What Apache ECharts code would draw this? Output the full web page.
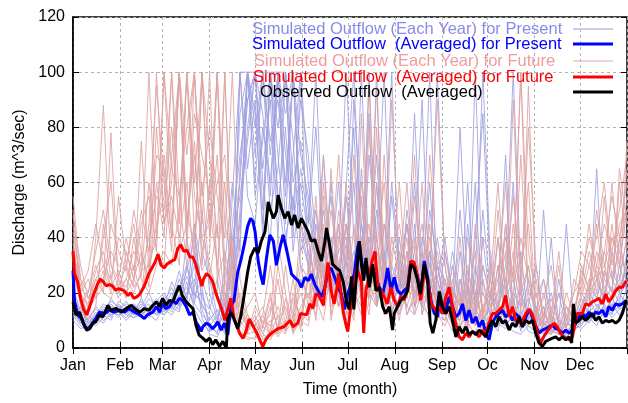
<!DOCTYPE html>
<html><head><meta charset="utf-8">
<script src="https://cdn.jsdelivr.net/npm/echarts@6/dist/echarts.min.js"></script>
<style>html,body{margin:0;padding:0;background:#fff}#c{width:628px;height:403px}</style>
</head><body><div id="c"></div>
<script>
// ---------- tick labels ----------
const monthLabels = ['Jan','Feb','Mar','Apr','May','Jun','Jul','Aug','Sep','Oc','Nov','Dec'];
const yTicks = [0, 20, 40, 60, 80, 100, 120];

// ---------- each-year series, one value every 5 days (Jan 1 .. Dec 31) ----------
const presentYear1 = [14,10,8,12,13,15,14, 13,16,12,14,18, 15,20,16,24,14,9, 6,8,12,35,60,100, 85,45,100,70,40,55,30, 25,45,28,20,22, 60,100,35,25,40,20,18, 30,45,25,15,12,30, 14,10,8,12,9,7, 18,12,9,6,5,8, 6,7,5,9,4,6, 10,12,14,11,13,15,18];
const presentYear2 = [20,12,9,11,15,13,12, 14,12,15,13,16, 18,14,22,30,16,12, 9,5,18,25,45,80, 100,60,38,100,55,100,45, 30,22,35,55,18, 25,15,45,30,70,22,14, 18,25,60,22,35,12, 10,22,15,9,30,12, 8,14,25,10,7,9, 12,6,5,8,10,7, 8,14,10,16,12,20,15];
const presentYear3 = [16,9,7,10,14,12,15, 12,11,14,16,12, 14,17,25,18,45,15, 12,8,30,60,35,100, 70,100,100,50,80,35,60, 40,20,70,30,15, 35,80,20,100,28,15,25, 12,20,35,90,18,25, 15,8,35,12,100,20, 12,30,10,15,8,12, 7,5,9,6,4,8, 12,9,15,13,18,14,22];
const presentYear4 = [12,8,6,9,12,14,11, 15,13,11,12,14, 12,16,14,20,30,11, 5,4,10,20,100,55, 45,80,60,100,100,40,100, 60,35,25,20,45, 15,30,55,20,15,35,12, 25,15,12,40,30,15, 25,12,10,45,15,8, 10,6,20,60,12,6, 5,8,12,7,5,10, 9,11,8,14,16,12,17];
const presentYear5 = [18,14,10,8,11,16,13, 11,14,17,12,10, 16,13,18,15,22,50, 20,10,6,45,70,90, 100,85,50,65,100,75,35, 45,80,30,25,35, 100,40,25,18,60,30,20, 15,28,20,25,60,20, 12,30,18,10,9,15, 20,9,7,14,35,10, 8,50,10,6,9,7, 14,10,12,20,15,18,25];
const presentYear6 = [15,11,9,13,10,12,14, 16,14,12,15,13, 12,15,19,26,18,20, 8,12,15,20,40,100, 60,100,70,100,45,100,50, 35,25,40,20,30, 20,25,30,85,15,45,25, 35,12,18,30,22,100, 30,15,12,20,60,10, 15,10,8,12,9,25, 10,7,6,5,12,8, 11,13,16,12,14,30,20];
const presentYear7 = [10,7,8,11,9,13,12, 13,11,12,14,15, 14,12,16,20,25,14, 7,6,9,15,100,65, 90,40,100,55,35,70,100, 28,18,22,60,25, 45,20,15,25,100,18,30, 20,35,15,20,15,30, 18,10,25,8,40,85, 25,8,12,18,6,15, 30,9,7,5,6,9, 7,10,12,15,11,14,16];
const presentYear8 = [13,9,11,14,12,10,16, 12,15,13,11,17, 20,15,13,30,19,25, 15,9,25,40,55,75, 100,65,90,40,100,60,75, 50,30,18,35,28, 30,60,20,40,25,20,55, 25,18,45,12,25,18, 20,15,12,28,18,25, 10,15,45,8,20,12, 6,10,8,20,7,6, 10,15,65,12,18,22,28];
const presentYear9 = [11,15,9,12,16,14,13, 10,13,16,14,12, 17,22,15,40,20,16, 10,14,8,30,85,100, 100,100,75,90,60,100,40, 30,50,25,40,20, 55,25,100,30,20,25,15, 40,20,25,15,50,30, 15,35,20,12,25,100, 30,12,18,25,10,8, 15,8,40,6,8,12, 14,18,12,25,20,40,22];
const presentYear10 = [17,12,8,10,13,17,15, 14,16,13,18,15, 13,18,28,17,35,22, 6,10,20,15,65,100, 55,75,100,100,70,50,90, 70,40,20,30,60, 18,90,45,20,35,25,60, 30,25,85,25,18,40, 22,12,50,15,10,30, 18,40,12,20,15,30, 12,25,9,7,15,10, 18,12,25,16,35,20,30];
const presentYear11 = [12,10,12,9,14,11,17, 15,12,18,13,14, 15,24,18,22,16,35, 25,12,5,12,50,90, 100,50,100,80,100,45,65, 45,100,35,22,28, 25,35,18,70,40,100,20, 22,45,18,30,100,15, 35,20,15,60,12,40, 15,20,70,10,12,18, 9,15,6,25,10,7, 12,20,15,18,22,16,35];
const presentYear12 = [22,13,10,15,12,18,14, 17,13,15,20,14, 19,16,21,28,40,18, 14,25,12,55,100,100, 80,100,55,100,85,100,70, 55,30,50,28,35, 40,20,65,25,50,30,100, 18,50,30,20,35,25, 40,18,80,20,15,50, 20,15,30,100,25,10, 7,12,20,9,45,8, 16,22,18,28,20,25,40];

const futureYear1 = [45,20,15,25,30,22,28, 20,25,35,22,60, 40,100,55,30,45,28, 35,100,20,10,6,4, 3,8,5,12,6,10,8, 15,20,45,12,30, 20,10,85,25,15,30,12, 25,40,15,30,20,12, 8,15,6,10,25,7, 12,30,15,90,20,10, 8,6,15,5,4,7, 15,20,25,18,40,30,50];
const futureYear2 = [30,18,12,40,88,30,25, 22,30,18,45,95, 60,35,100,45,70,35, 50,30,60,15,8,5, 6,4,15,8,5,20,10, 8,25,15,65,20, 12,45,15,20,60,18,10, 15,20,70,18,10,25, 12,6,20,9,5,15, 20,10,45,25,100,15, 12,9,6,8,5,10, 20,15,30,22,18,60,35];
const futureYear3 = [55,25,14,18,22,78,20, 25,20,28,30,40, 100,45,30,100,40,60, 25,45,15,30,10,6, 10,3,6,30,12,8,15, 20,12,30,18,40, 30,15,20,95,25,15,20, 10,30,20,15,45,10, 18,8,12,30,10,6, 8,15,10,20,40,25, 15,7,10,30,6,8, 12,25,18,35,25,20,75];
const futureYear4 = [35,22,18,20,25,35,30, 28,22,26,60,35, 30,70,100,35,100,45, 100,25,35,20,12,8, 5,12,4,6,18,5,12, 10,35,20,25,15, 45,20,12,30,18,70,25, 20,15,25,60,15,30, 25,10,7,18,12,20, 15,25,60,12,18,8, 6,12,9,7,20,12, 25,18,45,20,28,22,30];
const futureYear5 = [40,15,10,15,45,25,18, 35,25,20,32,100, 45,55,40,60,30,100, 40,70,25,12,20,10, 8,6,10,4,9,25,6, 30,15,55,10,25, 15,30,25,12,40,20,90, 30,12,20,35,25,15, 10,20,15,6,45,12, 30,12,18,10,25,60, 10,20,8,6,10,15, 18,30,20,55,25,35,28];
const futureYear6 = [28,16,20,30,20,18,25, 18,40,25,20,30, 35,30,50,100,55,40, 30,20,100,25,6,3, 4,10,8,15,7,12,20, 12,18,10,30,70, 25,18,55,15,25,12,35, 45,25,12,20,30,90, 30,12,10,25,8,15, 10,20,35,15,12,95, 20,8,12,6,8,9, 15,22,28,16,45,25,40];
const futureYear7 = [50,20,12,22,28,20,55, 30,22,75,28,45, 55,100,35,45,75,30, 60,30,15,40,15,7, 12,5,3,8,15,6,9, 25,10,40,15,20, 10,25,35,20,80,20,15, 12,35,15,25,12,20, 15,25,8,12,20,10, 25,8,15,45,20,30, 8,15,5,10,7,25, 20,35,25,30,20,65,45];
const futureYear8 = [38,18,16,28,35,22,20, 25,35,30,100,40, 70,40,100,50,35,100, 45,100,30,18,8,12, 6,8,20,5,10,8,30, 15,40,25,20,50, 35,12,30,45,15,25,20, 20,28,40,12,25,15, 20,10,18,6,15,25, 12,40,20,30,15,20, 15,5,8,12,15,10, 30,20,35,25,60,30,55];
const futureYear9 = [42,25,20,35,50,30,22, 30,45,28,40,55, 50,80,45,100,60,100, 70,40,100,20,15,9, 10,15,5,25,8,14,35, 40,20,60,25,15, 20,70,25,18,35,60,20, 35,18,55,25,30,20, 25,15,40,10,20,30, 18,50,20,15,70,20, 25,10,18,8,12,20, 25,40,30,45,35,50,70];
const futureYear10 = [32,20,25,18,40,60,25, 40,28,50,35,70, 65,40,100,70,100,55, 80,55,40,100,25,12, 8,12,30,10,6,18,12, 25,55,15,35,25, 60,15,40,25,95,30,18, 28,60,20,18,40,25, 12,30,15,20,8,40, 35,15,25,55,30,45, 12,18,30,10,8,15, 22,45,25,35,55,40,60];
const futureYear11 = [48,30,18,25,20,45,35, 28,50,35,25,80, 45,60,100,40,85,70, 55,100,45,30,18,5, 15,9,12,40,20,6,25, 18,30,70,20,45, 30,25,60,35,20,45,30, 60,20,30,45,20,35, 20,8,25,15,35,12, 25,60,18,35,20,80, 30,12,8,20,15,12, 28,22,50,30,40,35,65];
const futureYear12 = [36,22,28,45,30,25,40, 35,25,45,55,35, 100,65,55,80,100,40, 45,60,70,35,10,15, 20,7,18,6,30,10,45, 35,15,25,50,30, 45,30,20,80,30,15,40, 25,45,35,20,70,30, 35,18,12,40,20,8, 20,25,40,25,100,35, 18,25,12,35,10,20, 35,30,40,60,30,45,50];

// ---------- averaged series, [day of year, discharge] ----------
const presentAveraged = [[0,28],[1,17],[3,12],[5.5,10.7],[7.7,7.7],[10,7],[12,8.3],[15,10.7],[17.5,13],[21,12.5],[24,13.7],[27,13],[31,13.7],[34,13],[37,14.3],[40.5,13],[44,12],[47,10.7],[49,12],[52.6,13],[55,15],[57,13],[59,16],[61,14.3],[63.6,15],[65.8,17.3],[68,16],[70,18],[72,17.3],[74.6,15],[76.8,12],[79,13],[81,9.5],[83,7.7],[84.4,6],[85.5,7.7],[87.7,9],[90,8.3],[92,7],[94,8.3],[95.4,9.5],[97.6,6.5],[99.8,9],[102,4.8],[104,15],[106,17],[108.5,27.4],[110.7,32],[113,38],[115,44],[117,47],[118.5,46],[120,42],[122,31.5],[124,25.6],[125.3,23],[127.5,32.7],[129.7,41],[132,38.7],[134,30],[136.2,36],[138.4,41],[140.6,36],[142.8,30],[144,26.8],[146,25.6],[148.3,24.4],[150.5,22],[152.7,25.6],[155,24.4],[157,26.8],[159.3,23],[161.5,20.8],[163.7,18.5],[166,22],[168,28],[170,29],[172.4,25.6],[174.6,22],[176.8,19.6],[178.8,14],[181,19.6],[183,23],[185.3,26.8],[187.5,36.3],[188.6,38.7],[190.8,28],[193,31.5],[195.2,23],[197.4,29],[199.6,25.6],[201.8,22],[204,19.6],[206,24.4],[207.3,29],[209.5,20.8],[211.6,25.6],[213.8,20.8],[216,19.6],[218.2,20.8],[220.4,22],[222.6,31.5],[224.8,30.4],[227,25.6],[229.2,20.8],[231.4,31.5],[233.6,25.6],[235.8,17.3],[238,12.5],[240.2,11.3],[241.3,17.3],[243.4,12.5],[245.6,13.7],[247.8,18.5],[250,15],[252.2,11.3],[254.4,12.5],[256.6,16],[258.8,10],[261,13.7],[263.2,9],[265.4,11.3],[267.6,7.7],[269.8,10],[272,5.4],[274.1,3],[276.3,9],[278.5,11.3],[280.7,12.5],[283,13.7],[285,11.3],[287.3,12.5],[289.5,10],[291.7,12.5],[293.9,11.3],[296,7.7],[298.3,11.3],[300.5,14],[302.7,11],[304.8,8],[307,5.4],[309.2,6.5],[311.4,7],[313.6,7.7],[315.8,8.3],[318,7],[320.2,6.5],[322.4,5.4],[324.6,6.5],[326.8,5.4],[329,6.5],[331.2,9],[333.4,11.3],[335.5,12.5],[337.7,11.3],[340,13],[342,11.3],[344.3,13],[346.5,12.5],[348.7,13.7],[351,11.3],[353,15],[355.3,13.7],[357.5,16],[359.7,15.5],[361.9,16],[364.5,17.3]];

const futureAveraged = [[0,35],[1,27],[3,24],[5,18],[7,14],[9,12],[11,15],[14,20],[16,23],[18,25],[20,24],[22,22.5],[24,23],[26,22.5],[28,21],[30,21.5],[33,21],[35,20],[36,19],[38,20],[40,18],[42,18.5],[44,19.5],[47,22.5],[50,27],[52,29],[54,31],[56,34],[58,30],[60,29],[62,30.5],[65,31.5],[67,32],[69,36],[71,37.5],[73,35],[75,35.5],[77,33],[79,33],[81,30],[83,26],[85,22.5],[86,25],[88,27],[90,26],[92,24],[94,20],[96,17],[98,14],[100,10],[101,9.5],[103,16],[104,18],[106,11],[108,8],[110,5],[112,3.5],[114,6],[116,10.5],[118,8.5],[121,5.5],[123,3],[125,0.5],[127,3],[129,4.5],[131,5.5],[135,7],[139,7.7],[143,10],[145,7.7],[148,9],[150,12.5],[154,12],[156,16],[158,14.3],[160,19.6],[162,19],[165,15.5],[166,22],[168,31],[170,21],[172,16],[174,22],[175,27],[178,13],[180,8],[181,6],[183,15],[185,22],[187,29],[190,24],[191.5,5.5],[193,21],[195,25.6],[197,31.5],[199,35],[201,21],[203,21],[205,18.5],[207,16],[209.5,22],[211.6,17.3],[214,15],[216,19],[218,17.3],[220.4,20.8],[222.6,31.5],[224.8,31],[227,25.6],[229,17.3],[231.4,28],[233.6,24.4],[236,16],[239,13.7],[241,15],[243.4,12.5],[245.6,18.5],[247.8,22],[250,15],[252,9],[254.4,4],[256.6,3],[258.8,5.4],[261,4],[263,6],[265.4,5.4],[267.6,4],[269.8,6.5],[272,5.4],[274,9],[276.3,12.5],[278.5,12.5],[280.7,13.7],[283,15],[285,19],[287.3,11.3],[289.5,15],[291.7,10],[294,9],[296,10],[298.3,12.5],[300.5,14],[302.7,12],[304.8,8],[306.5,4],[308,1.8],[310,4],[313.6,7],[317,9],[319,7.7],[321,5.4],[323.5,4],[326.8,3],[329,4],[332,12.5],[335.6,12.5],[337.7,16],[340,15.5],[342,16.7],[344.3,17.3],[346.5,18],[348.7,16],[351,19.6],[353,16.7],[355.3,18.5],[357.5,20.8],[359.7,22],[362,22],[364.5,24.4]];

const observedAveraged = [[0,16.7],[2,12],[4.4,13],[6.6,9.5],[9,6.5],[11,7],[13,9],[15,9.5],[17.5,12],[19.7,11.3],[23,15.5],[25,13.7],[28.5,14.3],[31.8,13],[35,14.3],[38.4,15.5],[40.5,14.3],[44,13],[47,14.3],[50,13.7],[52.6,15.5],[55,16.7],[57,15],[59,18],[61.4,15.5],[63.6,17.3],[65.8,16.7],[68,20],[70,22.6],[72,19],[74.6,16.7],[76.8,15.5],[79,14.3],[80,15],[81,8.3],[83,4.8],[85.5,3.6],[87.7,2.4],[90,3.6],[92,1.2],[94,3],[96.5,0.6],[98.7,2.4],[101,0],[102,10.7],[104,13],[106,10.7],[108.5,7],[110.7,12],[113,20],[115,27.4],[117,33],[119.8,36.3],[122,34.5],[124,38.7],[126.4,42],[127.5,47],[128.6,53],[129.7,50.6],[132,47],[134,49.4],[135.1,55.4],[137.3,50.6],[139.5,47],[141.7,49.4],[144,44.6],[146,48.2],[148.3,43.5],[150.5,47],[152.7,44.6],[155,42],[157,38.7],[159.3,39.3],[161.5,35],[163.7,31.5],[166,38.7],[167,43.5],[169,37.5],[171,30.4],[173.5,29],[175.7,28],[178,24],[180,17],[182,14],[183.5,26],[185,14],[186.5,24.4],[188.6,38.7],[190,30.4],[191.5,24.4],[193,32.7],[195.2,22],[197.4,30.4],[199.6,20.8],[201.8,22],[204,15],[206,12.5],[208.4,15],[210.5,6.5],[211.6,12.5],[213.8,15],[216,17.3],[218.2,18.5],[220.4,20.8],[222.6,30.4],[224.8,29],[227,24.4],[228.8,19.6],[231.4,30.4],[233.6,24.4],[235.3,9],[237,5.4],[239,10],[241.3,20.5],[243.4,15],[245.6,12.5],[247.8,15],[250,10],[252.2,4],[254.4,7.7],[256.6,5.4],[258.8,7.7],[261,4.8],[263.2,6],[265.4,4.8],[267.6,6.5],[269.8,5.4],[272,4],[274.1,7.7],[276.3,10],[278.5,7.7],[280.7,11.3],[283,9],[285,10],[287.3,6.5],[289.5,9],[291.7,7.7],[293.9,11.3],[296,7.7],[298.3,10],[300.5,9],[302.7,10],[304.8,5.4],[307,1.8],[309.2,0.6],[311.4,2.4],[313.6,3],[315.8,3.6],[318,4],[320.2,3],[322.4,4],[324.6,3],[326.8,4],[328.5,1.8],[329.6,16],[331.2,9],[333.4,10],[335.5,11.3],[337.7,10],[340,11.3],[342,12.5],[344.3,10],[346.5,11.3],[348.7,9],[351,10],[353,9.5],[355.3,10],[357.5,9],[359.7,10],[361.9,12.5],[364.5,17.3]];

const legendNames = [
  'Simulated Outflow (Each Year) for Present',
  'Simulated Outflow  (Averaged) for Present',
  'Simulated Outflow (Each Year) for Future',
  'Simulated Outflow  (Averaged) for Future',
  'Observed Outflow  (Averaged)'
];

// ---------- build ----------
const DAY = 86400000;
const base = new Date(2001, 0, 1).getTime();
const t = d => base + d * DAY;
const STEP = 5;
const yearToData = arr => arr.map((v, i) => [t(Math.min(i * STEP, 364.9)), v]);
const avgToData = arr => arr.map(p => [t(p[0]), p[1]]);

const FONT = 'Liberation Sans, Arial, Helvetica, sans-serif';
const presentYears = [presentYear1,presentYear2,presentYear3,presentYear4,presentYear5,presentYear6,presentYear7,presentYear8,presentYear9,presentYear10,presentYear11,presentYear12];
const futureYears = [futureYear1,futureYear2,futureYear3,futureYear4,futureYear5,futureYear6,futureYear7,futureYear8,futureYear9,futureYear10,futureYear11,futureYear12];

const series = [];
presentYears.forEach(arr => series.push({
  name: legendNames[0], type: 'line', data: yearToData(arr), showSymbol: false, silent: true,
  lineStyle: { color: '#a0a0e0', width: 1, opacity: 0.85 }, z: 2
}));
futureYears.forEach(arr => series.push({
  name: legendNames[2], type: 'line', data: yearToData(arr), showSymbol: false, silent: true,
  lineStyle: { color: '#dea2a2', width: 1, opacity: 0.85 }, z: 3
}));
series.push({ name: legendNames[1], type: 'line', data: avgToData(presentAveraged), showSymbol: false,
  lineStyle: { color: '#0000ff', width: 3 }, z: 5 });
series.push({ name: legendNames[3], type: 'line', data: avgToData(futureAveraged), showSymbol: false,
  lineStyle: { color: '#ff0000', width: 3 }, z: 6 });
series.push({ name: legendNames[4], type: 'line', data: avgToData(observedAveraged), showSymbol: false,
  lineStyle: { color: '#000000', width: 3 }, z: 7 });

const legendRows = [
  { x: 252, y: 29, color: '#8a8ae8', line: '#9a9ae6', w: 1 },
  { x: 252, y: 44, color: '#0000ff', line: '#0000ff', w: 3 },
  { x: 254, y: 61, color: '#f09c9c', line: '#eaa2a2', w: 1 },
  { x: 253, y: 77, color: '#ff0000', line: '#ff0000', w: 3 },
  { x: 260, y: 92, color: '#000000', line: '#000000', w: 3 }
];
const graphic = [];
legendRows.forEach((r, i) => {
  graphic.push({ type: 'text', x: r.x, y: r.y, z: 100,
    style: { text: legendNames[i], fill: r.color, fontSize: 16.5, fontFamily: FONT, verticalAlign: 'middle', align: 'left' } });
  graphic.push({ type: 'line', z: 100, shape: { x1: 573, y1: r.y, x2: 613, y2: r.y },
    style: { stroke: r.line, lineWidth: r.w } });
});

const chart = echarts.init(document.getElementById('c'), null, { renderer: 'canvas' });
const tminmax = { min: base, max: base + 365 * DAY - 3600000 };
chart.setOption({
  animation: false,
  backgroundColor: '#ffffff',
  grid: { left: 73, right: 1, top: 17, bottom: 50, show: true, borderColor: '#000', borderWidth: 1.5 },
  xAxis: [{
    type: 'time', ...tminmax, minInterval: 28 * DAY, maxInterval: 31 * DAY,
    axisLine: { show: true, lineStyle: { color: '#000', width: 1.5 } },
    axisTick: { show: true, inside: true, length: 6, lineStyle: { color: '#000' } },
    axisLabel: { color: '#000', fontSize: 16, fontFamily: FONT, margin: 10,
      formatter: v => monthLabels[new Date(v).getMonth()] },
    splitLine: { show: true, lineStyle: { color: '#b4b4b4', type: [3, 3], width: 1 } },
    name: 'Time (month)', nameLocation: 'middle', nameGap: 34,
    nameTextStyle: { color: '#000', fontSize: 16, fontFamily: FONT }
  }, {
    type: 'time', position: 'top', ...tminmax, minInterval: 28 * DAY, maxInterval: 31 * DAY,
    axisLine: { show: false }, axisTick: { show: true, inside: true, length: 6, lineStyle: { color: '#000' } },
    axisLabel: { show: false }, splitLine: { show: false }
  }],
  yAxis: [{
    type: 'value', min: yTicks[0], max: yTicks[yTicks.length - 1], interval: yTicks[1] - yTicks[0],
    axisLine: { show: true, lineStyle: { color: '#000', width: 1.5 } },
    axisTick: { show: true, inside: true, length: 6, lineStyle: { color: '#000' } },
    axisLabel: { color: '#000', fontSize: 16, fontFamily: FONT, margin: 8 },
    splitLine: { show: true, lineStyle: { color: '#b4b4b4', type: [3, 3], width: 1 } },
    name: 'Discharge (m^3/sec)', nameLocation: 'middle', nameGap: 44,
    nameTextStyle: { color: '#000', fontSize: 16, fontFamily: FONT }
  }, {
    type: 'value', position: 'right', min: yTicks[0], max: yTicks[yTicks.length - 1], interval: yTicks[1] - yTicks[0],
    axisLine: { show: false }, axisTick: { show: true, inside: true, length: 6, lineStyle: { color: '#000' } },
    axisLabel: { show: false }, splitLine: { show: false }
  }],
  series: series,
  graphic: graphic
});
</script>
</body></html>
